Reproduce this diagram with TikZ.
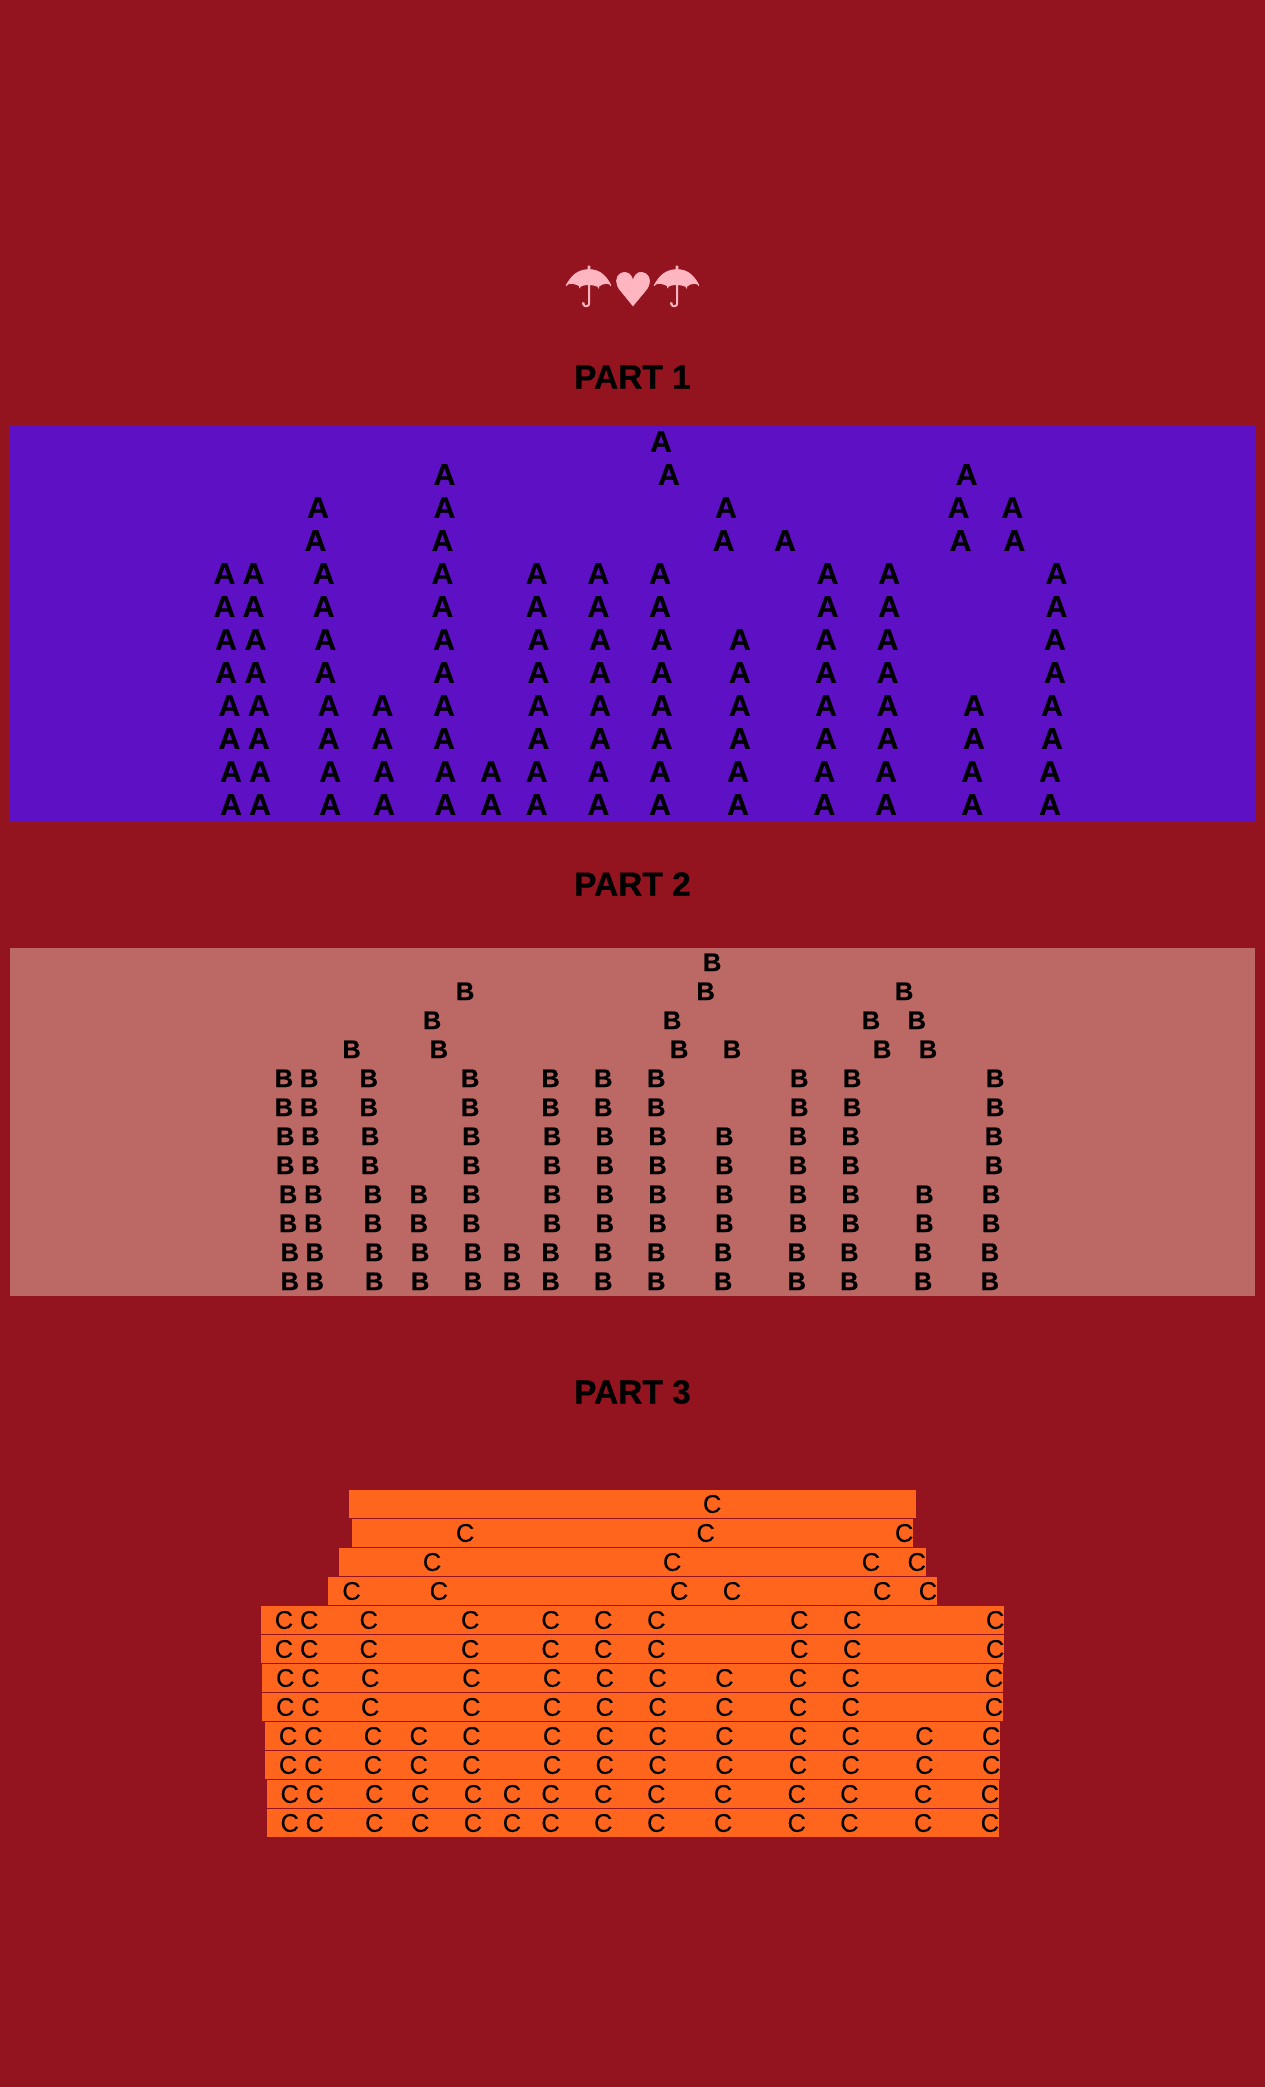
\documentclass[tikz,border=0pt]{standalone}
\usepackage{fontspec}
\usepackage{xcolor}
\setmainfont{Liberation Sans}
\newfontfamily\heavyfont{Liberation Sans Bold}[FakeBold=0.5]
\newfontfamily\mediumfont{Liberation Sans}[FakeBold=0.2]
\newfontfamily\iconfont{DejaVu Sans}[FakeBold=1.2]
\definecolor{pagered}{RGB}{147,19,30}
\definecolor{bandpurple}{RGB}{94,16,196}
\definecolor{bandrose}{RGB}{188,104,100}
\definecolor{barorange}{RGB}{255,101,28}
\definecolor{iconpink}{RGB}{255,182,193}

% column positions shared by the B and C rows
\newcommand{\sharedrows}{%
  0/{712.2},
  1/{465.2,705.7,904.2},
  2/{432.1,672.2,871,916.8},
  3/{351.6,438.9,679.2,732,882.2,928},
  4/{284,309.2,368.8,470.2,550.6,603.3,656.3,799.3,852.2,995.2},
  5/{284,309.2,368.8,470.2,550.6,603.3,656.3,799.3,852.2,995.2},
  6/{285.3,310.5,370.2,471.4,552.1,604.8,657.6,724.4,798,850.7,994},
  7/{285.3,310.5,370.2,471.4,552.1,604.8,657.6,724.4,798,850.7,994},
  8/{288.1,313.4,373,418.8,471.4,552.1,604.8,657.6,724.4,798,850.7,924.4,991.2},
  9/{288.1,313.4,373,418.8,471.4,552.1,604.8,657.6,724.4,798,850.7,924.4,991.2},
  10/{289.8,314.8,374.3,420.2,473,512,550.6,603.3,656.3,723.1,796.8,849.4,923.1,989.9},
  11/{289.8,314.8,374.3,420.2,473,512,550.6,603.3,656.3,723.1,796.8,849.4,923.1,989.9}}

\begin{document}
\begin{tikzpicture}[
      x=1pt, y=-1pt,
      pagefill/.style={fill=pagered},
      purplefill/.style={fill=bandpurple},
      rosefill/.style={fill=bandrose},
      barfill/.style={fill=barorange},
      heading/.style={inner sep=0pt, text=black, font=\fontsize{33.5}{36}\heavyfont},
      icon/.style={inner sep=0pt, text=iconpink},
      lettera/.style={inner sep=0pt, text=black, font=\fontsize{30}{32}\heavyfont},
      letterb/.style={inner sep=0pt, text=black, font=\fontsize{25.5}{28}\heavyfont},
      letterc/.style={inner sep=0pt, text=black, font=\fontsize{25.5}{28}\mediumfont}
    ]
      % Page and bands
      \fill[pagefill] (0,0) rectangle (1265,2087);
      \fill[purplefill] (10,426) rectangle (1255,822);
      \fill[rosefill] (10,948) rectangle (1255,1296);

      % Umbrellas and heart
      \node[icon, font=\fontsize{56}{60}\iconfont] (umbrellaleft) at (588.5,286.5) {☂};
      \node[icon, font=\fontsize{46}{60}\iconfont] (heart) at (633,289) {♥};
      \node[icon, font=\fontsize{56}{60}\iconfont] (umbrellaright) at (676.5,286.5) {☂};

      % Headings
      \node[heading] (part1) at (632.5,377) {PART 1};
      \node[heading] (part2) at (632.5,884) {PART 2};
      \node[heading] (part3) at (632.5,1392) {PART 3};

      % Part 1 letters
      \foreach \rownum/\xlist in {
        0/{661},
        1/{444.5,668.9,966.6},
        2/{318,444.5,726,958.5,1012.3},
        3/{315.5,442.4,723.6,785,960.5,1014.4},
        4/{224.5,253.5,323.7,442.4,536.7,598.4,660,827.6,889.2,1056.5},
        5/{224.5,253.5,323.7,442.4,536.7,598.4,660,827.6,889.2,1056.5},
        6/{226,255.5,325.3,444,538.4,600,661.6,739.8,826,887.6,1054.9},
        7/{226,255.5,325.3,444,538.4,600,661.6,739.8,826,887.6,1054.9},
        8/{229.4,258.8,328.6,382.4,444,538.4,600,661.6,739.8,826,887.6,973.9,1052},
        9/{229.4,258.8,328.6,382.4,444,538.4,600,661.6,739.8,826,887.6,973.9,1052},
        10/{231,260,330.2,384,445.3,491,536.7,598.4,660,738,824.4,886,972.2,1050},
        11/{231,260,330.2,384,445.3,491,536.7,598.4,660,738,824.4,886,972.2,1050}} {
        \foreach \xpos [count=\colnum] in \xlist {
          \node[lettera] (a-\rownum-\colnum) at (\xpos,441.5+33*\rownum) {A};
        }
      }

      % Part 2 letters
      \foreach \rownum/\xlist in \sharedrows {
        \foreach \xpos [count=\colnum] in \xlist {
          \node[letterb] (b-\rownum-\colnum) at (\xpos,962.3+29*\rownum) {B};
        }
      }

      % Part 3 bars
      \foreach \rownum/\leftx/\rightx in {
        0/349/916, 1/352/913, 2/339/926, 3/328/937,
        4/261/1004, 5/261/1004, 6/262/1003, 7/262/1003,
        8/265/1000, 9/265/1000, 10/267/999, 11/267/999} {
        \fill[barfill] (\leftx,1490+29*\rownum) rectangle (\rightx,1518+29*\rownum);
      }

      % Part 3 letters
      \foreach \rownum/\xlist in \sharedrows {
        \foreach \xpos [count=\colnum] in \xlist {
          \node[letterc] (c-\rownum-\colnum) at (\xpos,1504+29*\rownum) {C};
        }
      }
    \end{tikzpicture}
\end{document}
